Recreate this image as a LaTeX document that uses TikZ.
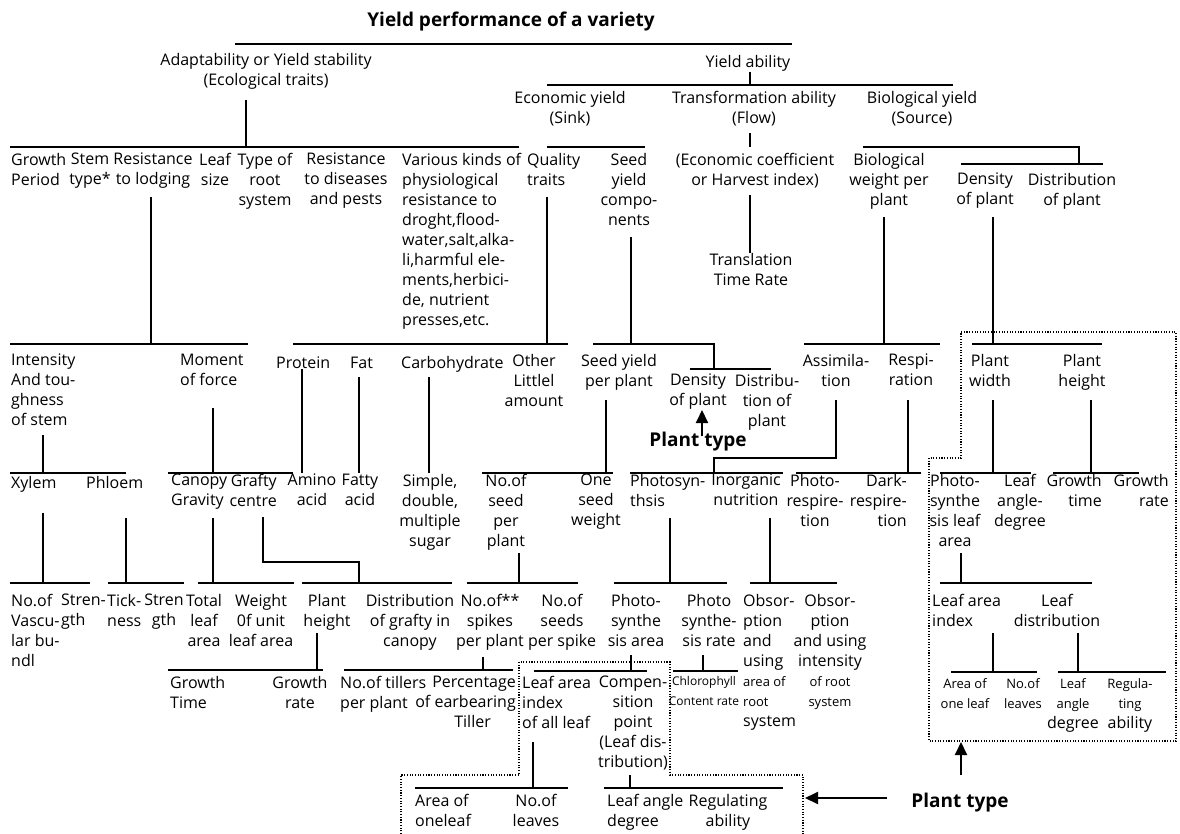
\documentclass[tikz,border=0pt]{standalone}
\usepackage{fontspec}
\setmainfont{Open Sans}
\usetikzlibrary{arrows.meta}
\newcommand{\sm}{\fontsize{13}{20}\selectfont}

\begin{document}
\begin{tikzpicture}[x=1pt, y=-1pt,
    cell/.style={font=\fontsize{16}{20}\selectfont, inner sep=0pt, align=center, anchor=north, yshift=9pt, execute at begin node=\strut},
    lcell/.style={cell, align=left, anchor=north west},
    rcell/.style={cell, align=right, anchor=north east},
    head/.style={font=\fontsize{19}{22}\selectfont\bfseries, inner sep=0pt},
    link/.style={line width=1.8pt},
    fence/.style={line width=1.1pt, dash pattern=on 1.1pt off 1.6pt},
    pointer/.style={line width=2pt, -{Triangle[length=13pt,width=12pt]}}]
    \fill[white] (0,0) rectangle (1180,834);
    \useasboundingbox (0,0) rectangle (1180,834);

    % Top levels
    \node[head] (title) at (511,22) {Yield performance of a variety};
    \node[cell] (adapt) at (266,62) {Adaptability or Yield stability\\(Ecological traits)};
    \node[cell] (yability) at (748,62) {Yield ability};
    \node[cell] (econ) at (570,100) {Economic yield\\(Sink)};
    \node[cell] (trans) at (754,100) {Transformation ability\\(Flow)};
    \node[cell] (bioyield) at (922,100) {Biological yield\\(Source)};

    % First row of traits
    \node[lcell] (growth) at (11,162) {Growth\\Period};
    \node[cell] (stem) at (90,162) {Stem\\type*};
    \node[cell] (lodging) at (153,162) {Resistance\\to lodging};
    \node[cell] (leafsize) at (215,162) {Leaf\\size};
    \node[cell] (roottype) at (265,162) {Type of\\root\\system};
    \node[cell] (disease) at (346,162) {Resistance\\to diseases\\and pests};
    \node[lcell] (various) at (402,162) {Various kinds of\\physiological\\resistance to\\droght,flood-\\water,salt,alka-\\li,harmful ele-\\ments,herbici-\\de, nutrient\\presses,etc.};
    \node[lcell] (quality) at (527,162) {Quality\\traits};
    \node[cell] (seedcomp) at (629,162) {Seed\\yield\\compo-\\nents};
    \node[cell] (ecoef) at (755,162) {(Economic coefficient\\or Harvest index)};
    \node[cell] (bioweight) at (889,162) {Biological\\weight per\\plant};
    \node[cell] (density) at (985,182) {Density\\of plant};
    \node[cell] (distrib) at (1072,182) {Distribution\\of plant};
    \node[cell] (transl) at (751,262) {Translation\\Time Rate};

    % Second row
    \node[lcell] (intensity) at (11,363) {Intensity\\And tou-\\ghness\\of stem};
    \node[lcell] (moment) at (180,363) {Moment\\of force};
    \node[lcell] (protein) at (276,363) {Protein};
    \node[lcell] (fat) at (350,363) {Fat};
    \node[lcell] (carbo) at (401,363) {Carbohydrate};
    \node[cell] (other) at (534,363) {Other\\Littlel\\amount};
    \node[cell] (seedplant) at (619,363) {Seed yield\\per plant};
    \node[cell] (density2) at (698,383) {Density\\of plant};
    \node[cell] (distrib2) at (767,383) {Distribu-\\tion of\\plant};
    \node[head] (ptypeA) at (698,442) {Plant type};
    \node[cell] (assim) at (836,363) {Assimila-\\tion};
    \node[cell] (respi) at (911,363) {Respi-\\ration};
    \node[cell] (pwidth) at (990,363) {Plant\\width};
    \node[cell] (pheight) at (1082,363) {Plant\\height};

    % Third row
    \node[lcell] (xylem) at (11,483) {Xylem};
    \node[lcell] (phloem) at (86,483) {Phloem};
    \node[lcell] (canopy) at (171,483) {Canopy\\Gravity};
    \node[rcell] (grafty) at (277,483) {Grafty\\centre};
    \node[cell] (amino) at (312,483) {Amino\\acid};
    \node[cell] (fatty) at (360,483) {Fatty\\acid};
    \node[cell] (sugar) at (430,483) {Simple,\\double,\\multiple\\sugar};
    \node[cell] (noseed) at (506,483) {No.of\\seed\\per\\plant};
    \node[cell] (oneseed) at (596,483) {One\\seed\\weight};
    \node[lcell] (photosyn) at (630,483) {Photosyn-\\thsis};
    \node[cell] (inorg) at (746,483) {Inorganic\\nutrition};
    \node[cell] (photoresp) at (815,483) {Photo-\\respire-\\tion};
    \node[rcell] (darkresp) at (907,483) {Dark-\\respire-\\tion};
    \node[cell] (photoleaf) at (955,483) {Photo-\\synthe\\sis leaf\\area};
    \node[cell] (leafangle) at (1020,483) {Leaf\\angle-\\degree};
    \node[rcell] (growtime) at (1102,483) {Growth\\time};
    \node[rcell] (growrate) at (1169,483) {Growth\\rate};

    % Fourth row
    \node[lcell] (novasc) at (11,603) {No.of\\Vascu-\\lar bu-\\ndl};
    \node[lcell] (stren1) at (61,603) {Stren-\\gth};
    \node[lcell] (thick) at (107,603) {Tick-\\ness};
    \node[cell] (stren2) at (164,603) {Stren\\gth};
    \node[cell] (totleaf) at (204,603) {Total\\leaf\\area};
    \node[cell] (wunit) at (261,603) {Weight\\0f unit\\leaf area};
    \node[cell] (pheight2) at (327,603) {Plant\\height};
    \node[cell] (distgrafty) at (410,603) {Distribution\\of grafty in\\canopy};
    \node[cell] (nospikes) at (490,603) {No.of**\\spikes\\per plant};
    \node[cell] (noseeds) at (562,603) {No.of\\seeds\\per spike};
    \node[cell] (photoarea) at (636,603) {Photo-\\synthe\\sis area};
    \node[cell] (photorate) at (709,603) {Photo\\synthe-\\sis rate};
    \node[lcell] (absorb1) at (743,603) {Obsor-\\ption\\and\\using\\{\sm area of}\\{\sm root}\\system};
    \node[cell] (absorb2) at (830,603) {Obsor-\\ption\\and using\\intensity\\{\sm of root}\\{\sm system}};
    \node[lcell] (lai) at (932,603) {Leaf area\\index};
    \node[cell] (leafdist) at (1057,603) {Leaf\\distribution};

    % Fifth row
    \node[lcell] (gtime) at (170,685) {Growth\\Time};
    \node[cell] (grate) at (300,685) {Growth\\rate};
    \node[lcell] (tillers) at (340,685) {No.of tillers\\per plant};
    \node[rcell] (earbear) at (516,685) {Percentage\\of earbearing\\Tiller\hspace*{25pt}};
    \node[lcell] (laiall) at (522,685) {Leaf area\\index\\of all leaf};
    \node[cell] (compen) at (633,685) {Compen-\\sition\\point\\(Leaf dis-\\tribution)};
    \node[cell, font=\fontsize{12}{20}\selectfont] (chloro) at (704,685) {Chlorophyll\\Content rate};
    \node[cell] (areaone2) at (965,687) {{\sm Area of}\\{\sm one leaf}};
    \node[cell] (noleaves2) at (1023,687) {{\sm No.of}\\{\sm leaves}};
    \node[cell] (angledeg2) at (1073,687) {{\sm Leaf}\\{\sm angle}\\degree};
    \node[cell] (regabil2) at (1130,687) {{\sm Regula-}\\{\sm ting}\\ability};

    % Bottom row
    \node[lcell] (areaone) at (415,803) {Area of\\oneleaf};
    \node[cell] (noleaves) at (536,803) {No.of\\leaves};
    \node[lcell] (angledeg) at (607,803) {Leaf angle\\degree};
    \node[cell] (regabil) at (728,803) {Regulating\\ability};
    \node[head] (ptypeB) at (960,803) {Plant type};

    % Bars
    \draw[link] (235,44) -- (792,44);
    \draw[link] (547,85) -- (953,85);
    \draw[link] (10,147) -- (519,147);
    \draw[link] (547,147) -- (645,147);
    \draw[link] (863,147) -- (1079,147) -- (1079,164);
    \draw[link] (961,164) -- (1103,164);
    \draw[link] (10,344) -- (248,344);
    \draw[link] (293,344) -- (568,344);
    \draw[link] (593,344) -- (714,344) -- (714,369);
    \draw[link] (690,369) -- (771,369);
    \draw[link] (804,344) -- (940,344);
    \draw[link] (972,344) -- (1102,344);
    \draw[link] (10,473) -- (126,473);
    \draw[link] (168,473) -- (293,473);
    \draw[link] (482,473) -- (613,473);
    \draw[link] (630,473) -- (783,473);
    \draw[link] (796,473) -- (921,473);
    \draw[link] (940,473) -- (1031,473);
    \draw[link] (1053,473) -- (1139,473);
    \draw[link] (10,583) -- (90,583);
    \draw[link] (108,583) -- (184,583);
    \draw[link] (198,583) -- (294,583);
    \draw[link] (302,583) -- (452,583);
    \draw[link] (467,583) -- (578,583);
    \draw[link] (614,583) -- (727,583);
    \draw[link] (750,583) -- (837,583);
    \draw[link] (940,583) -- (1092,583);
    \draw[link] (168,670) -- (323,670);
    \draw[link] (344,670) -- (513,670);
    \draw[link] (534,671) -- (647,671);
    \draw[link] (673,671) -- (738,671);
    \draw[link] (951,672) -- (1037,672);
    \draw[link] (1058,672) -- (1166,672);
    \draw[link] (415,788) -- (568,788);
    \draw[link] (604,788) -- (783,788);

    % Ticks
    \draw[link] (750,72) -- (750,85);
    \draw[link] (246,100) -- (246,147);
    \draw[link] (750,133) -- (750,147);
    \draw[link] (151,197) -- (151,344);
    \draw[link] (547,197) -- (547,344);
    \draw[link] (631,237) -- (631,344);
    \draw[link] (750,195) -- (750,253);
    \draw[link] (884,217) -- (884,344);
    \draw[link] (993,217) -- (993,344);
    \draw[link] (43,435) -- (43,473);
    \draw[link] (213,408) -- (213,473);
    \draw[link] (302,369) -- (302,473);
    \draw[link] (359,377) -- (359,473);
    \draw[link] (429,377) -- (429,473);
    \draw[link] (606,400) -- (606,473);
    \draw[link] (836,400) -- (836,458) -- (714,458) -- (714,473);
    \draw[link] (908,400) -- (908,473);
    \draw[link] (993,400) -- (993,473);
    \draw[link] (1091,400) -- (1091,473);
    \draw[link] (43,513) -- (43,583);
    \draw[link] (126,518) -- (126,583);
    \draw[link] (213,518) -- (213,583);
    \draw[link] (263,517) -- (263,562) -- (359,562) -- (359,583);
    \draw[link] (519,553) -- (519,583);
    \draw[link] (670,518) -- (670,583);
    \draw[link] (770,518) -- (770,583);
    \draw[link] (961,553) -- (961,583);
    \draw[link] (317,633) -- (317,670);
    \draw[link] (483,657) -- (483,670);
    \draw[link] (631,655) -- (631,671);
    \draw[link] (703,655) -- (703,671);
    \draw[link] (993,633) -- (993,672);
    \draw[link] (1078,633) -- (1078,672);
    \draw[link] (533,742) -- (533,788);
    \draw[link] (630,775) -- (630,788);

    % Plant type frames
    \draw[fence] (961,332) -- (1176,332) -- (1176,741) -- (929,741) -- (929,458) -- (961,458) -- cycle;
    \draw[fence] (401,834) -- (401,775) -- (519,775) -- (519,662) -- (670,662) -- (670,775) -- (803,775) -- (803,834);

    % Arrows
    \draw[pointer] (702,436) -- (702,410);
    \draw[pointer] (961,775) -- (961,742);
    \draw[pointer] (887,798) -- (805,798);
\end{tikzpicture}
\end{document}
